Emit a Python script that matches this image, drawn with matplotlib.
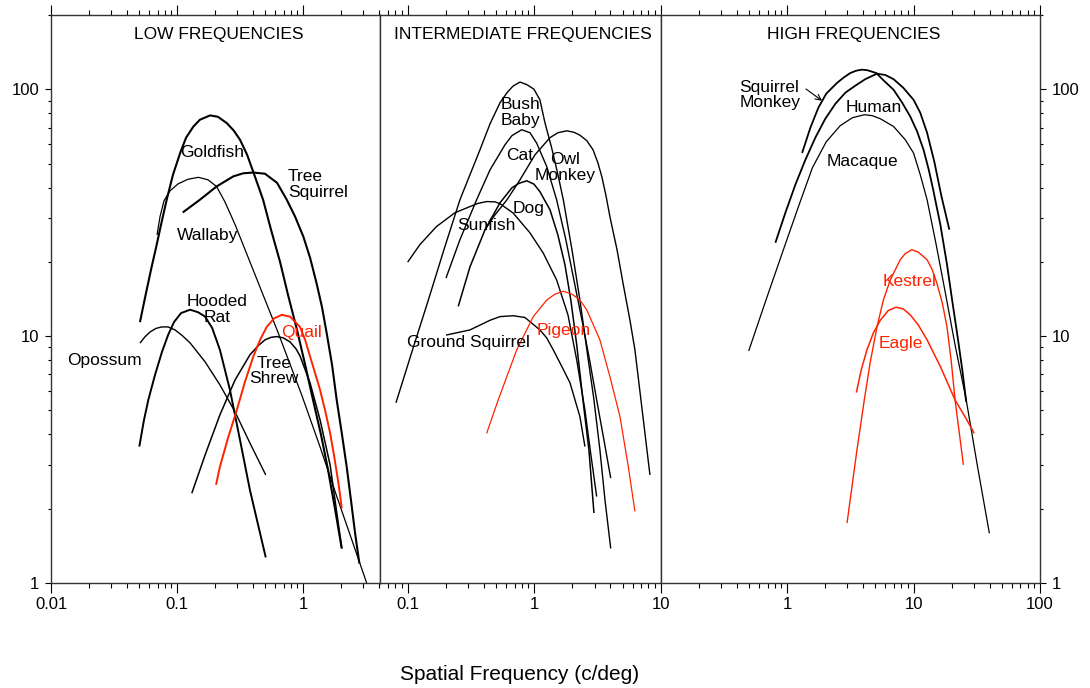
import matplotlib
matplotlib.use("Agg")
import matplotlib.pyplot as plt

plt.rcParams["font.family"] = ["Liberation Sans", "DejaVu Sans"]

RED = "#ff2200"

# ---------------- low frequencies ----------------
goldfish_x = [0.0508, 0.0557, 0.0622, 0.069, 0.0756, 0.0828, 0.0929, 0.106, 0.118, 0.135, 0.152, 0.183, 0.211,
              0.248, 0.283, 0.316, 0.36, 0.416, 0.482, 0.557, 0.657, 0.76, 0.896, 1.04, 1.2, 1.39, 1.58, 1.79, 2.03]
goldfish_y = [11.4, 14.3, 18.6, 23.5, 29.1, 35.7, 45.1, 55.3, 63.7, 70.7, 75.3, 78.4, 77.4,
              73.0, 67.9, 62.5, 54.3, 44.2, 35.7, 27.0, 20.0, 14.7, 10.6, 7.65, 5.52, 3.98, 2.87, 2.01, 1.38]

tree_squirrel_x = [0.111, 0.152, 0.206, 0.28, 0.336, 0.403, 0.499, 0.622, 0.743, 0.865, 1.006, 1.137, 1.28,
                   1.415, 1.54, 1.70, 1.85, 2.04, 2.22, 2.40, 2.59, 2.8]
tree_squirrel_y = [31.7, 35.7, 40.4, 44.4, 45.7, 46.0, 45.5, 41.8, 35.7, 30.5, 25.3, 20.8, 16.4,
                   13.1, 10.3, 7.65, 5.52, 3.98, 2.96, 2.17, 1.59, 1.2]

wallaby_x = [0.0694, 0.0733, 0.0789, 0.088, 0.102, 0.122, 0.148, 0.176, 0.206, 0.240, 0.289, 0.401, 0.622,
             0.976, 1.365, 1.86, 2.49, 3.2]
wallaby_y = [25.7, 30.5, 35.4, 38.8, 41.4, 43.2, 44.0, 43.0, 40.4, 35.0, 28.3, 18.6, 10.6,
             5.78, 3.56, 2.23, 1.45, 1.0]

hooded_rat_x = [0.0502, 0.0547, 0.0592, 0.0669, 0.076, 0.0849, 0.0946, 0.1076, 0.127, 0.147, 0.167, 0.19,
                0.219, 0.263, 0.316, 0.379, 0.44, 0.506]
hooded_rat_y = [3.57, 4.58, 5.52, 6.97, 8.64, 10.1, 11.4, 12.4, 12.8, 12.5, 12.0, 10.8,
                8.8, 6.06, 3.8, 2.38, 1.72, 1.27]

opossum_x = [0.0508, 0.0557, 0.0611, 0.0681, 0.0757, 0.0849, 0.0964, 0.1097, 0.127, 0.167, 0.219, 0.289,
             0.379, 0.506]
opossum_y = [9.37, 9.94, 10.4, 10.75, 10.9, 10.9, 10.6, 10.07, 9.39, 7.87, 6.35, 4.93, 3.69, 2.74]

tree_shrew_x = [0.131, 0.167, 0.219, 0.289, 0.379, 0.44, 0.499, 0.557, 0.618, 0.694, 0.789, 0.88, 0.946,
                1.137, 1.365, 1.64, 2.03]
tree_shrew_y = [2.31, 3.3, 4.8, 6.65, 8.4, 9.14, 9.66, 9.89, 9.96, 9.85, 9.48, 8.88, 8.32,
                6.47, 4.58, 3.01, 1.38]

quail_x = [0.204, 0.219, 0.254, 0.298, 0.346, 0.403, 0.456, 0.515, 0.589, 0.677, 0.789, 0.946, 1.04, 1.137,
           1.245, 1.365, 1.495, 1.64, 1.76, 1.91, 2.03]
quail_y = [2.5, 2.96, 3.87, 5.02, 6.53, 8.27, 9.66, 10.9, 11.8, 12.2, 12.0, 10.9, 9.66, 8.27,
           7.1, 6.06, 5.02, 4.05, 3.3, 2.54, 2.01]

# ---------------- intermediate frequencies ----------------
bush_baby_x = [0.0808, 0.108, 0.145, 0.1935, 0.259, 0.311, 0.373, 0.448, 0.537, 0.61, 0.68, 0.773, 0.877, 0.996,
               1.11, 1.217, 1.374, 1.53, 1.70, 1.99, 2.30, 2.61, 2.97, 3.31, 3.63, 4.03]
bush_baby_y = [5.37, 8.64, 13.9, 22.4, 35.7, 45.1, 56.9, 72.5, 88.2, 96.9, 103, 107, 104.4, 100.1,
               90.7, 73.2, 58.0, 45.9, 35.7, 22.4, 14.0, 8.8, 5.52, 3.46, 2.17, 1.38]

cat_x = [0.201, 0.259, 0.351, 0.448, 0.588, 0.667, 0.797, 0.927, 1.047, 1.256, 1.505, 1.78, 2.10, 2.43, 2.76,
         3.12, 3.56, 4.03]
cat_y = [17.2, 24.6, 35.7, 47.2, 59.6, 64.9, 68.6, 66.7, 60.5, 48.7, 35.7, 24.6, 16.1, 11.1, 7.87,
         5.52, 3.8, 2.66]

owl_monkey_x = [0.403, 0.49, 0.61, 0.773, 1.015, 1.334, 1.54, 1.81, 2.06, 2.30, 2.61, 2.92, 3.19, 3.43, 3.70,
                3.97, 4.52, 5.04, 5.72, 6.26, 7.25, 8.23]
owl_monkey_y = [26.7, 31.0, 35.7, 43.0, 54.3, 63.7, 66.7, 67.9, 67.0, 65.2, 61.9, 56.9, 50.4, 44.2, 37.0,
                30.5, 22.4, 16.4, 11.6, 8.8, 4.71, 2.74]

dog_x = [0.251, 0.311, 0.409, 0.537, 0.667, 0.759, 0.873, 0.996, 1.11, 1.334, 1.54, 1.75, 1.95, 2.17, 2.43,
         2.71, 2.97]
dog_y = [13.2, 19.1, 27.0, 34.7, 39.9, 41.6, 42.6, 41.3, 38.5, 32.5, 25.7, 19.5, 14.0, 9.22, 5.52,
         3.46, 1.92]

sunfish_x = [0.1, 0.125, 0.169, 0.236, 0.311, 0.36, 0.421, 0.49, 0.537, 0.684, 0.927, 1.18, 1.505, 1.85, 2.17,
             2.52, 2.81, 3.12]
sunfish_y = [19.95, 23.5, 27.8, 31.6, 33.5, 34.5, 35.1, 35.0, 34.4, 31.5, 26.2, 21.7, 16.9, 12.2, 8.01,
             5.02, 3.3, 2.24]

ground_squirrel_x = [0.201, 0.311, 0.448, 0.537, 0.684, 0.846, 1.11, 1.256, 1.416, 1.66, 1.92, 2.30, 2.52]
ground_squirrel_y = [10.1, 10.6, 11.6, 12.0, 12.1, 11.9, 10.6, 9.84, 8.8, 7.51, 6.47, 4.72, 3.57]

pigeon_x = [0.421, 0.52, 0.728, 0.984, 1.256, 1.46, 1.70, 1.99, 2.30, 2.60, 3.31, 3.97, 4.77, 5.55, 6.26]
pigeon_y = [4.04, 5.52, 8.8, 12.0, 14.0, 14.8, 15.2, 14.8, 14.0, 12.8, 9.66, 6.86, 4.72, 2.96, 1.95]

# ---------------- high frequencies ----------------
squirrel_monkey_x = [1.314, 1.528, 1.767, 2.04, 2.48, 2.79, 3.16, 3.53, 3.91, 4.31, 5.07, 5.77, 6.95, 8.14,
                     9.42, 10.7, 12.0, 13.2, 14.3, 16.3, 18.4, 20.2, 22.5, 24.3, 26.1]
squirrel_monkey_y = [55.2, 69.9, 84.2, 96.0, 106.1, 111.4, 116.4, 119, 120.1, 119.5, 116.4, 108.9, 99.6, 88.2,
                     77.6, 67.3, 56.9, 47.2, 39.2, 28.3, 19.5, 14.0, 9.66, 7.3, 5.42]

human_x = [0.808, 0.969, 1.163, 1.395, 1.673, 2.006, 2.41, 2.89, 3.46, 4.15, 5.14, 5.98, 6.95, 8.29, 10.0, 11.3,
           12.8, 14.6, 16.6, 19.2]
human_y = [23.9, 31.6, 41.1, 51.8, 63.7, 76.0, 87.4, 96.9, 103.4, 109.9, 115.7, 114.3, 109.9, 101.5, 90.7, 80.4,
           66.7, 50.9, 37.0, 27.0]

macaque_x = [0.497, 0.674, 0.918, 1.228, 1.585, 2.04, 2.63, 3.28, 4.08, 4.72, 5.46, 6.95, 8.6, 10.0, 11.3, 12.8,
             15.1, 17.8, 21.3, 26.1, 31.9, 39.8]
macaque_y = [8.71, 13.8, 21.8, 33.4, 48.1, 61.3, 71.2, 76.7, 78.9, 78.2, 76.0, 70.7, 62.5, 55.2, 45.1, 35.7,
             23.5, 15.1, 9.22, 5.52, 3.01, 1.59]

kestrel_x = [2.98, 3.26, 3.57, 4.08, 4.55, 5.14, 5.77, 6.55, 7.85, 8.60, 9.71, 10.9, 12.8, 14.05, 15.3, 16.9,
             18.4, 19.9, 21.3, 24.8]
kestrel_y = [1.75, 2.46, 3.46, 5.52, 7.87, 10.9, 14.0, 16.9, 20.4, 21.6, 22.4, 21.9, 20.4, 18.6, 16.4, 13.6,
             10.9, 7.87, 5.52, 3.01]

eagle_x = [3.53, 3.86, 4.28, 4.81, 5.46, 6.31, 7.26, 8.29, 9.42, 10.9, 12.8, 16.3, 21.3, 26.4, 30.2]
eagle_y = [5.91, 7.30, 8.8, 10.3, 11.6, 12.7, 13.1, 12.9, 12.2, 11.1, 9.66, 7.53, 5.52, 4.58, 4.04]

panel_titles = ["LOW FREQUENCIES", "INTERMEDIATE FREQUENCIES", "HIGH FREQUENCIES"]
panel_xlims = [(0.01, 4.08), (0.0604, 10), (0.1, 100)]
panel_majors = [[0.01, 0.1, 1], [0.1, 1, 10], [1, 10, 100]]
panel_major_labels = [["0.01", "0.1", "1"], ["0.1", "1", "10"], ["1", "10", "100"]]
y_majors = [1, 10, 100]
y_major_labels = ["1", "10", "100"]

# (x, y, colour, linewidth)
curves = [
    [
        (goldfish_x, goldfish_y, "k", 1.5),
        (tree_squirrel_x, tree_squirrel_y, "k", 1.5),
        (wallaby_x, wallaby_y, "k", 0.9),
        (hooded_rat_x, hooded_rat_y, "k", 1.4),
        (opossum_x, opossum_y, "k", 1.0),
        (tree_shrew_x, tree_shrew_y, "k", 1.1),
        (quail_x, quail_y, RED, 1.4),
    ],
    [
        (bush_baby_x, bush_baby_y, "k", 1.0),
        (cat_x, cat_y, "k", 1.0),
        (owl_monkey_x, owl_monkey_y, "k", 1.0),
        (dog_x, dog_y, "k", 1.1),
        (sunfish_x, sunfish_y, "k", 1.0),
        (ground_squirrel_x, ground_squirrel_y, "k", 1.0),
        (pigeon_x, pigeon_y, RED, 0.9),
    ],
    [
        (squirrel_monkey_x, squirrel_monkey_y, "k", 1.3),
        (human_x, human_y, "k", 1.3),
        (macaque_x, macaque_y, "k", 0.9),
        (kestrel_x, kestrel_y, RED, 1.0),
        (eagle_x, eagle_y, RED, 1.1),
    ],
]

# (x, y, text, colour, ha, va)
labels = [
    [
        (0.19, 53.3, "Goldfish", "k", "center", "baseline"),
        (0.76, 41.1, "Tree\nSquirrel", "k", "left", "center"),
        (0.176, 24.6, "Wallaby", "k", "center", "baseline"),
        (0.2075, 12.8, "Hooded\nRat", "k", "center", "center"),
        (0.0264, 7.65, "Opossum", "k", "center", "baseline"),
        (0.589, 7.23, "Tree\nShrew", "k", "center", "center"),
        (0.976, 9.94, "Quail", RED, "center", "baseline"),
    ],
    [
        (0.786, 80.4, "Bush\nBaby", "k", "center", "center"),
        (0.768, 51.8, "Cat", "k", "center", "baseline"),
        (1.75, 48.1, "Owl\nMonkey", "k", "center", "center"),
        (0.91, 31.6, "Dog", "k", "center", "baseline"),
        (0.421, 27.0, "Sunfish", "k", "center", "baseline"),
        (0.301, 9.05, "Ground Squirrel", "k", "center", "baseline"),
        (1.71, 10.1, "Pigeon", RED, "center", "baseline"),
    ],
    [
        (0.42, 94.7, "Squirrel\nMonkey", "k", "left", "center"),
        (4.83, 81.2, "Human", "k", "center", "baseline"),
        (3.97, 48.7, "Macaque", "k", "center", "baseline"),
        (9.37, 16.0, "Kestrel", RED, "center", "baseline"),
        (8.0, 8.97, "Eagle", RED, "center", "baseline"),
    ],
]


def log_minor(lo, hi):
    ticks = []
    for e in range(-3, 3):
        for m in range(2, 10):
            v = m * 10.0 ** e
            if lo * 0.999 <= v <= hi * 1.001:
                ticks.append(v)
    return ticks


fig = plt.figure(figsize=(10.9, 6.88), dpi=100)

# panel boxes in figure fractions
bottom, height = 0.1526, 0.8256
boxes = [(0.0468, 0.3018), (0.3486, 0.2575), (0.6061, 0.3480)]

axes = []
for i, (left, width) in enumerate(boxes):
    ax = fig.add_axes([left, bottom, width, height])
    ax.set_xscale("log")
    ax.set_yscale("log")
    ax.set_xlim(*panel_xlims[i])
    ax.set_ylim(1, 200)

    for x, y, c, lw in curves[i]:
        ax.plot(x, y, color=c, lw=lw, solid_capstyle="butt", solid_joinstyle="round")

    for x, y, s, c, ha, va in labels[i]:
        ax.text(x, y, s, color=c, ha=ha, va=va, fontsize=12.5, linespacing=1.05)

    ax.text(0.51, 0.965, panel_titles[i], transform=ax.transAxes,
            ha="center", va="center", fontsize=12.5)

    ax.set_xticks(panel_majors[i], panel_major_labels[i])
    ax.set_xticks(log_minor(*panel_xlims[i]), minor=True)
    ax.set_yticks(y_majors, y_major_labels)
    ax.set_yticks(log_minor(1, 200), minor=True)

    ax.tick_params(axis="x", which="major", direction="out", length=7, width=0.8,
                   top=True, labelsize=12, pad=3)
    ax.tick_params(axis="x", which="minor", direction="out", length=3.6, width=0.8,
                   top=True)
    ax.tick_params(axis="y", which="major", direction="out", length=4.3, width=0.8,
                   labelsize=12, pad=4,
                   left=(i == 0), right=(i == 2),
                   labelleft=(i == 0), labelright=(i == 2))
    ax.tick_params(axis="y", which="minor", direction="out", length=2.5, width=0.8,
                   left=(i == 0), right=(i == 2))

    for sp in ax.spines.values():
        sp.set_color("#333333")
        sp.set_linewidth(1.0)
    axes.append(ax)

axes[2].annotate("", xy=(1.89, 89.9), xytext=(1.41, 100.3),
                 arrowprops=dict(arrowstyle="->", lw=0.8, color="k",
                                 shrinkA=0, shrinkB=0))

fig.text(520 / 1090, 1 - 675 / 688, "Spatial Frequency (c/deg)",
         ha="center", va="center", fontsize=15)

fig.savefig("out.png", dpi=100)
